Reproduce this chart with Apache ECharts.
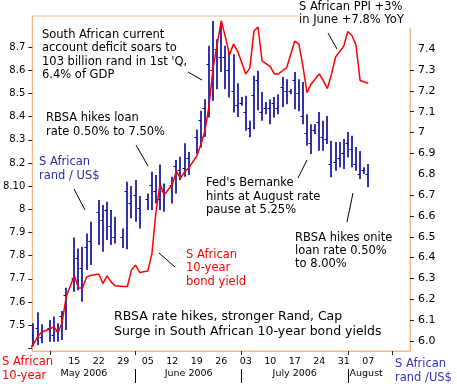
<!DOCTYPE html>
<html><head><meta charset="utf-8">
<script src="https://cdn.jsdelivr.net/npm/echarts@6/dist/echarts.min.js"></script>
<style>html,body{margin:0;padding:0;background:#fff}#c{width:457px;height:390px}</style>
</head><body><div id="c"></div>
<script>
// ---------- DATA ----------
// S African rand / US$ daily high-low-close bars
const randDates = ['2006-05-03','2006-05-04','2006-05-05','2006-05-08','2006-05-09','2006-05-10','2006-05-11','2006-05-12','2006-05-15','2006-05-16','2006-05-17','2006-05-18','2006-05-19','2006-05-22','2006-05-23','2006-05-24','2006-05-25','2006-05-26','2006-05-29','2006-05-30','2006-05-31','2006-06-01','2006-06-02','2006-06-05','2006-06-06','2006-06-07','2006-06-08','2006-06-09','2006-06-12','2006-06-13','2006-06-14','2006-06-15','2006-06-16','2006-06-19','2006-06-20','2006-06-21','2006-06-22','2006-06-23','2006-06-25','2006-06-26','2006-06-27','2006-06-28','2006-06-29','2006-06-30','2006-07-02','2006-07-03','2006-07-04','2006-07-05','2006-07-06','2006-07-07','2006-07-09','2006-07-10','2006-07-11','2006-07-12','2006-07-13','2006-07-14','2006-07-16','2006-07-17','2006-07-18','2006-07-19','2006-07-20','2006-07-21','2006-07-23','2006-07-24','2006-07-25','2006-07-26','2006-07-27','2006-07-28','2006-07-30','2006-07-31','2006-08-01','2006-08-02','2006-08-03','2006-08-04','2006-08-06','2006-08-07'];
const randHigh = [6.085,6.138,6.080, 6.101,6.117,6.085,6.144,6.256, 6.497,6.444,6.452,6.516,6.572, 6.676,6.652,6.668,6.628,6.596, 6.540,6.764,6.743,6.772,6.695, 6.708,6.812,6.796,6.847,6.756, 6.788,6.868,6.884,6.948,6.907, 7.014,7.104,7.160,7.416,7.535, 7.448, 7.515,7.416,7.384,7.376,7.237, 7.170, 7.176,7.056,7.272,7.296,7.194, 7.146, 7.160,7.170,7.184,7.266,7.256, 7.208, 7.290,7.256,7.242,7.088,7.040, 7.040, 7.098,7.056,7.079,6.960,6.954, 6.954, 6.969,7.002,6.985,6.930,6.912, 6.834, 6.849];
const randLow = [5.973,5.981,5.989, 5.996,5.996,5.996,6.005,6.053, 6.236,6.244,6.188,6.340,6.364, 6.460,6.428,6.484,6.460,6.468, 6.446,6.440,6.589,6.572,6.540, 6.628,6.628,6.660,6.628,6.620, 6.660,6.708,6.772,6.788,6.796, 6.897,6.928,6.978,7.072,7.152, 7.208, 7.290,7.208,7.168,7.096,7.074, 7.128, 7.008,6.977,7.016,7.107,7.056, 7.088, 7.040,7.072,7.088,7.122,7.136, 7.184, 7.112,7.102,7.040,6.936,6.897, 6.993, 6.913,6.913,6.945,6.785,6.817, 6.833, 6.825,6.881,6.833,6.817,6.777, 6.801, 6.738];
const randClose = [6.03,6.06,6.02, 6.06,6.03,6.05,6.12,6.22, 6.30,6.40,6.35,6.45,6.48, 6.62,6.58,6.63,6.55,6.50, 6.50,6.72,6.66,6.70,6.64, 6.68,6.75,6.72,6.68,6.72, 6.75,6.84,6.82,6.83,6.88, 6.98,7.06,7.12,7.33,7.30, 7.40, 7.36,7.36,7.30,7.20,7.13, 7.14, 7.10,7.02,7.18,7.25,7.10, 7.12, 7.12,7.14,7.12,7.22,7.20, 7.20, 7.25,7.19,7.08,7.00,6.95, 7.01, 7.05,6.98,6.97,6.85,6.86, 6.88, 6.90,6.95,6.92,6.85,6.80, 6.82, 6.80];

// S African 10-year bond yield (%)
const yieldDates = ['2006-05-02','2006-05-03','2006-05-04','2006-05-05','2006-05-08','2006-05-09','2006-05-10','2006-05-11','2006-05-12','2006-05-15','2006-05-16','2006-05-17','2006-05-18','2006-05-19','2006-05-22','2006-05-23','2006-05-24','2006-05-25','2006-05-26','2006-05-29','2006-05-30','2006-05-31','2006-06-01','2006-06-02','2006-06-05','2006-06-06','2006-06-07','2006-06-08','2006-06-09','2006-06-12','2006-06-13','2006-06-14','2006-06-15','2006-06-16','2006-06-19','2006-06-20','2006-06-21','2006-06-22','2006-06-23','2006-06-26','2006-06-27','2006-06-28','2006-06-29','2006-06-30','2006-07-03','2006-07-04','2006-07-05','2006-07-06','2006-07-07','2006-07-10','2006-07-11','2006-07-12','2006-07-13','2006-07-14','2006-07-17','2006-07-18','2006-07-19','2006-07-20','2006-07-21','2006-07-24','2006-07-25','2006-07-26','2006-07-27','2006-07-28','2006-07-31','2006-08-01','2006-08-02','2006-08-03','2006-08-04','2006-08-07'];
const yieldValues = [7.398,7.419,7.450,7.471, 7.484,7.494,7.469,7.510,7.622, 7.715,7.661,7.661,7.708,7.715, 7.721,7.680,7.713,7.687,7.670, 7.667,7.667,7.739,7.760,7.728, 7.734,7.807,7.989,8.109,8.062, 8.107,8.165,8.134,8.161,8.178, 8.230,8.280,8.338,8.446,8.610, 8.814,8.743,8.666,8.713,8.683, 8.584,8.610,8.769,8.786,8.640, 8.616,8.584,8.584,8.598,8.610, 8.726,8.713,8.618,8.503,8.541, 8.584,8.554,8.521,8.584,8.657, 8.704,8.767,8.750,8.709,8.556, 8.544];

// Tick labels
const leftTickLabels = ['7.5','7.6','7.7','7.8','7.9','8','8.10','8.2','8.3','8.4','8.5','8.6','8.7'];
const leftTickOnly = ['7.4'];
const rightTickLabels = ['6.0','6.1','6.2','6.3','6.4','6.5','6.6','6.7','6.8','6.9','7','7.1','7.2','7.3','7.4'];
const rightLabelsWithoutTick = ['6.8','7.4'];
const weekLabelDates = ['2006-05-15','2006-05-22','2006-05-29','2006-06-05','2006-06-12','2006-06-19','2006-06-26','2006-07-03','2006-07-10','2006-07-17','2006-07-24','2006-07-31','2006-08-07'];
const monthLabels = ['May 2006','June 2006','July 2006','August'];
const monthEdgeDates = ['2006-05-01','2006-06-01','2006-07-01','2006-08-01','2006-08-11'];
const xTickDates = ['2006-05-08','2006-06-01','2006-07-01','2006-08-01','2006-08-14'];

// ---------- trading-calendar scale: 5 weekdays + 1 weekend slot per week ----------
const DAY0 = Date.UTC(2006,4,1);
function slot(d){
  const p = d.split('-').map(Number);
  const n = Math.round((Date.UTC(p[0],p[1]-1,p[2]) - DAY0)/864e5);
  return Math.floor(n/7)*6 + Math.min(n%7,5);
}
const X_MIN = 1.70, X_MAX = 94.23;
const FONT = 'DejaVu Sans';
const FRAME = '#f6b98a';
const BLUE = '#000099';

const randData = randDates.map((d,i)=>[slot(d), randLow[i], randHigh[i], randClose[i]]);
const yieldData = yieldDates.map((d,i)=>[slot(d), yieldValues[i]]);
const weekSlots = weekLabelDates.map(slot);
const edgeSlots = monthEdgeDates.map(slot);
const monthSlots = monthLabels.map((m,i)=>(Math.max(edgeSlots[i],X_MIN)+edgeSlots[i+1])/2);
const near = (a,b)=>Math.abs(a-b)<1e-6;

const chart = echarts.init(document.getElementById('c'), null, {renderer:'canvas'});
const txt = (x,y,text,opt)=>Object.assign({type:'text', x:x, y:y, z:100,
  style:Object.assign({text:text, fontFamily:FONT, fontSize:11.5, lineHeight:13.4, fill:'#000', align:'left', verticalAlign:'top'}, opt||{})});
const ln = (x1,y1,x2,y2)=>({type:'line', z:100, shape:{x1:x1,y1:y1,x2:x2,y2:y2}, style:{stroke:'#000', lineWidth:1}});

chart.setOption({
  animation:false,
  backgroundColor:'#fff',
  grid:{left:30, right:47, top:16, bottom:39, show:true, borderColor:FRAME, borderWidth:1, backgroundColor:'transparent'},
  xAxis:[{
    type:'value', min:X_MIN, max:X_MAX, position:'bottom',
    axisLine:{show:true, lineStyle:{color:FRAME}},
    axisTick:{show:true, customValues:xTickDates.map(slot), length:4, lineStyle:{color:'#222'}},
    axisLabel:{customValues:weekSlots, margin:6, fontSize:9.5, fontFamily:FONT, color:'#000',
      formatter:v=>{const i=weekSlots.findIndex(s=>near(s,v)); return i<0?'':weekLabelDates[i].slice(8);}},
    splitLine:{show:false}
  },{
    type:'value', min:X_MIN, max:X_MAX, position:'bottom', offset:18,
    axisLine:{show:false},
    axisTick:{show:true, customValues:edgeSlots.slice(1,4), length:14, lineStyle:{color:'#000'}},
    axisLabel:{customValues:monthSlots, margin:0, fontSize:9.5, fontFamily:FONT, color:'#000',
      formatter:v=>{const i=monthSlots.findIndex(s=>near(s,v)); return i<0?'':monthLabels[i];}},
    splitLine:{show:false}
  }],
  yAxis:[{
    type:'value', position:'left', min:7.389, max:8.834,
    axisLine:{show:true, lineStyle:{color:FRAME}},
    axisTick:{show:true, customValues:leftTickOnly.concat(leftTickLabels).map(Number), length:4, lineStyle:{color:'#222'}},
    axisLabel:{customValues:leftTickLabels.map(Number), margin:7, fontSize:10, fontFamily:FONT, color:'#000',
      formatter:v=>{const l=leftTickLabels.find(s=>near(Number(s),v)); return l||'';}},
    splitLine:{show:false}
  },{
    type:'value', position:'right', min:5.952, max:7.559,
    axisLine:{show:true, lineStyle:{color:FRAME}},
    axisTick:{show:true, customValues:rightTickLabels.filter(s=>rightLabelsWithoutTick.indexOf(s)<0).map(Number), length:4, lineStyle:{color:'#222'}},
    axisLabel:{customValues:rightTickLabels.map(Number), margin:8, fontSize:11, fontFamily:FONT, color:'#000',
      formatter:v=>{const l=rightTickLabels.find(s=>near(Number(s),v)); return l||'';}},
    splitLine:{show:false}
  }],
  series:[{
    type:'custom', name:'S African rand / US$', xAxisIndex:0, yAxisIndex:1, z:2, clip:true,
    data:randData, encode:{x:0, y:[1,2,3]},
    renderItem:function(params, api){
      const x = api.value(0);
      const lo = api.coord([x, api.value(1)]);
      const hi = api.coord([x, api.value(2)]);
      const cl = api.coord([x, api.value(3)]);
      const px = Math.round(hi[0]);
      const cy = Math.round(cl[1]) + 0.5;
      return {type:'group', children:[
        {type:'line', shape:{x1:px, y1:hi[1], x2:px, y2:lo[1]}, style:{stroke:BLUE, lineWidth:1.6}},
        {type:'line', shape:{x1:px-2.5, y1:cy, x2:px, y2:cy}, style:{stroke:BLUE, lineWidth:1}}
      ]};
    }
  },{
    type:'line', name:'S African 10-year bond yield', xAxisIndex:0, yAxisIndex:0, z:3,
    data:yieldData, showSymbol:false, symbol:'none', clip:true,
    lineStyle:{color:'#ff0000', width:1.5}
  }],
  graphic:[
    {type:'rect', z:90, shape:{x:298, y:0, width:118, height:28}, style:{fill:'#fff'}},
    txt(42, 28.3, "South African current\naccount deficit soars to\n103 billion rand in 1st 'Q,\n6.4% of GDP"),
    ln(188,72,202,80),
    txt(46, 111.5, "RBSA hikes loan\nrate 0.50% to 7.50%"),
    ln(136,145,148,166),
    txt(39, 155.5, "S African\nrand / US$", {fill:'#2b2ba0'}),
    ln(74,189,85,210),
    txt(206, 176.5, "Fed's Bernanke\nhints at August rate\npause at 5.25%"),
    ln(298,178,307,160),
    txt(186, 248.3, "S African\n10-year\nbond yield", {fill:'#ff0000'}),
    ln(159,253,175,267),
    txt(114, 310, "RBSA rate hikes, stronger Rand, Cap\nSurge in South African 10-year bond yields", {fontSize:12.5, lineHeight:14.4}),
    txt(295, 231, "RBSA hikes onite\nloan rate 0.50%\nto 8.00%"),
    ln(353,193,347,222),
    txt(299, 0.3, "S African PPI +3%\nin June +7.8% YoY"),
    ln(328,33,337,49),
    txt(2, 355.5, "S African\n10-year", {fill:'#ff0000'}),
    txt(395, 357.5, "S African\nrand /US$", {fill:'#3333bb'})
  ]
});
</script></body></html>
